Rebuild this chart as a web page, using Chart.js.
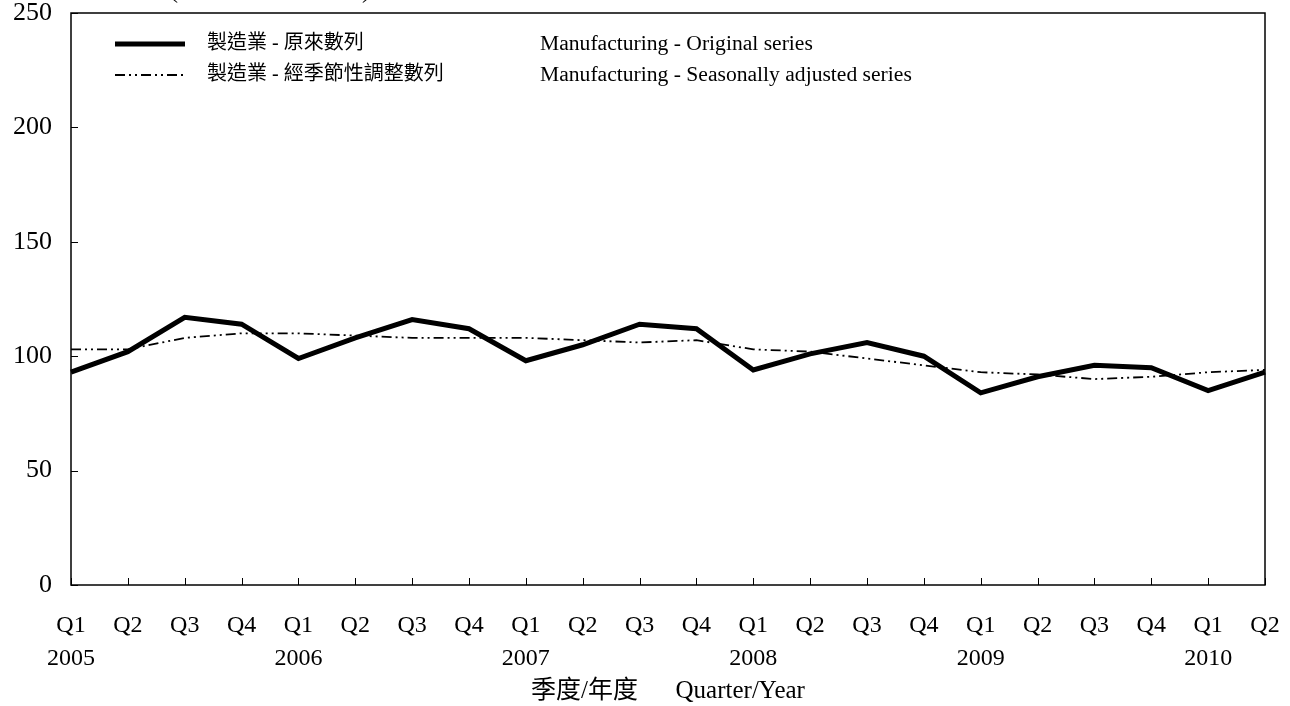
<!DOCTYPE html>
<html>
<head>
<meta charset="utf-8">
<script src="https://cdn.jsdelivr.net/npm/chart.js@4.4.1/dist/chart.umd.min.js"></script>
<style>
    html, body { margin: 0; padding: 0; background: #fff; }
    canvas { display: block; }
</style>
</head>
<body>
<canvas id="chart" width="1290" height="706"></canvas>
<script>
// Datos
const quarters = ['Q1', 'Q2', 'Q3', 'Q4', 'Q1', 'Q2', 'Q3', 'Q4', 'Q1', 'Q2', 'Q3', 'Q4',
                  'Q1', 'Q2', 'Q3', 'Q4', 'Q1', 'Q2', 'Q3', 'Q4', 'Q1', 'Q2'];
const years = ['2005', '', '', '', '2006', '', '', '', '2007', '', '', '',
               '2008', '', '', '', '2009', '', '', '', '2010', ''];
const originalSeries = [93, 102, 117, 114, 99, 108, 116, 112, 98, 105, 114, 112,
                        94, 101, 106, 100, 84, 91, 96, 95, 85, 93];
const adjustedSeries = [103, 103, 108, 110, 110, 109, 108, 108, 108, 107, 106, 107,
                        103, 102, 99, 96, 93, 92, 90, 91, 93, 94];
const yMin = 0, yMax = 250, yStep = 50;
const seriesNamesZh = ['製造業 - 原來數列', '製造業 - 經季節性調整數列'];
const seriesNamesEn = ['Manufacturing - Original series', 'Manufacturing - Seasonally adjusted series'];
const axisTitle = '季度/年度      Quarter/Year';

const FONT = '"Liberation Serif", "Noto Sans CJK TC", serif';

// Marco, marcas hacia dentro y leyenda
const framePlugin = {
    id: 'frame',
    afterDraw(chart) {
        const { ctx, chartArea: a, scales: { x, y } } = chart;
        ctx.save();
        ctx.strokeStyle = '#000';
        ctx.lineWidth = 1.5;
        ctx.strokeRect(a.left, a.top, a.right - a.left, a.bottom - a.top);

        ctx.beginPath();
        x.ticks.forEach((t, i) => {
            const px = Math.round(x.getPixelForTick(i)) + 0.5;
            ctx.moveTo(px, a.bottom);
            ctx.lineTo(px, a.bottom - 7);
        });
        y.ticks.forEach((t, i) => {
            const py = Math.round(y.getPixelForTick(i)) + 0.5;
            ctx.moveTo(a.left, py);
            ctx.lineTo(a.left + 7, py);
        });
        ctx.lineWidth = 1;
        ctx.stroke();

        // leyenda
        ctx.fillStyle = '#000';
        ctx.textBaseline = 'middle';
        chart.data.datasets.forEach((ds, i) => {
            const ly = a.top + 31 + i * 31;
            ctx.beginPath();
            ctx.lineWidth = ds.borderWidth;
            ctx.setLineDash(ds.borderDash || []);
            ctx.moveTo(a.left + 44, ly);
            ctx.lineTo(a.left + 114, ly);
            ctx.stroke();
            ctx.setLineDash([]);
            ctx.font = '20px ' + FONT;
            ctx.fillText(seriesNamesZh[i], a.left + 136, ly);
            ctx.font = '21.6px ' + FONT;
            ctx.fillText(seriesNamesEn[i], a.left + 469, ly);
        });

        // título del eje Y recortado arriba
        ctx.font = '24px ' + FONT;
        ctx.textBaseline = 'alphabetic';
        ctx.fillText('(', 170, -2);
        ctx.fillText(')', 362, -2);
        ctx.restore();
    }
};

const ctx = document.getElementById('chart').getContext('2d');
const chart = new Chart(ctx, {
    type: 'line',
    data: {
        labels: quarters.map((q, i) => [q, years[i]]),
        datasets: [
            {
                label: seriesNamesZh[0],
                data: originalSeries,
                borderColor: '#000',
                borderWidth: 5,
                pointRadius: 0,
                tension: 0,
                fill: false
            },
            {
                label: seriesNamesZh[1],
                data: adjustedSeries,
                borderColor: '#000',
                borderWidth: 1.8,
                borderDash: [10, 4, 2, 4, 2, 4],
                pointRadius: 0,
                tension: 0,
                fill: false
            }
        ]
    },
    options: {
        responsive: false,
        animation: false,
        layout: { padding: { top: 13, right: 25, left: 0, bottom: 0 } },
        plugins: {
            legend: { display: false },
            tooltip: { enabled: false }
        },
        scales: {
            x: {
                offset: false,
                grid: { display: false, drawTicks: false },
                border: { display: false },
                ticks: {
                    color: '#000',
                    font: { family: FONT, size: 24, lineHeight: 1.375 },
                    padding: 24,
                    maxRotation: 0,
                    autoSkip: false
                },
                title: {
                    display: true,
                    text: axisTitle,
                    color: '#000',
                    font: { family: FONT, size: 25 },
                    padding: { top: 0, bottom: 0 }
                },
                afterFit(scale) {
                    scale.height = 121;
                    scale.paddingLeft = 0;
                    scale.paddingRight = 0;
                }
            },
            y: {
                min: yMin,
                max: yMax,
                grid: { display: false, drawTicks: false },
                border: { display: false },
                ticks: {
                    stepSize: yStep,
                    color: '#000',
                    font: { family: FONT, size: 26 },
                    padding: 19
                },
                afterFit(scale) {
                    scale.width = 71;
                    scale.paddingTop = 0;
                    scale.paddingBottom = 0;
                }
            }
        }
    },
    plugins: [framePlugin]
});
</script>
</body>
</html>
